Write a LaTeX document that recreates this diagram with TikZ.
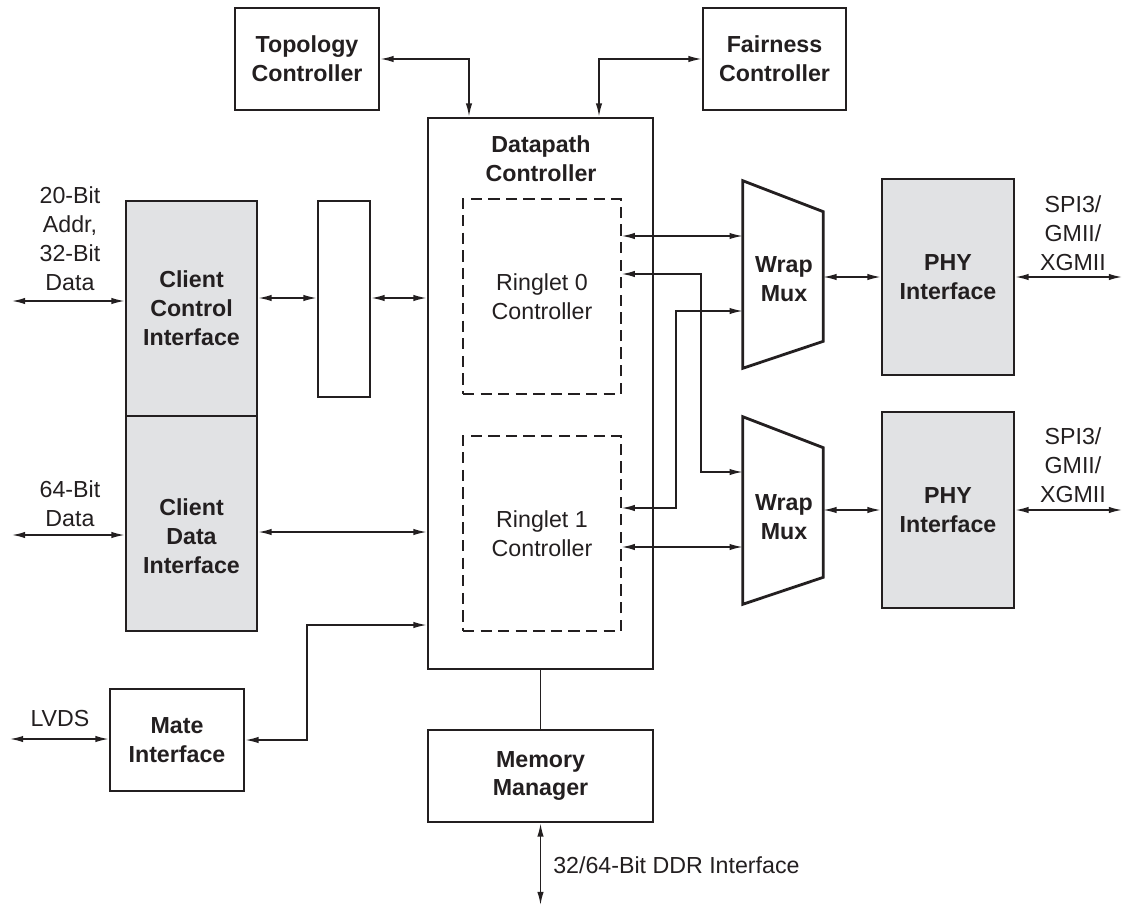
\documentclass[tikz,border=0pt]{standalone}
\usepackage{fontspec}
\setmainfont{Liberation Sans}
\usetikzlibrary{arrows.meta, calc}

\definecolor{ink}{HTML}{231F20}
\definecolor{panel}{HTML}{E1E2E4}

\begin{document}
\begin{tikzpicture}[
			x=0.025cm, y=-0.025cm,
			blk/.style={
				draw=ink,
				line width=2pt,
				align=center,
				inner sep=0pt,
				text=ink,
				font=\fontsize{16.5}{20.5}\selectfont\bfseries
			},
			shadeblk/.style={blk, fill=panel},
			ringlet/.style={
				draw=ink,
				line width=1pt,
				dash pattern=on 8pt off 4.5pt,
				align=center,
				inner sep=0pt,
				text=ink,
				font=\fontsize{16.5}{20.5}\selectfont
			},
			lbl/.style={align=center, inner sep=0pt, text=ink, font=\fontsize{16.5}{20.5}\selectfont},
			boldlbl/.style={lbl, font=\fontsize{16.5}{20.5}\selectfont\bfseries},
			biarr/.style={{Latex[length=3.3mm,width=1.6mm]}-{Latex[length=3.3mm,width=1.6mm]}, line width=1pt, draw=ink},
			plain/.style={line width=1pt, draw=ink}
			]
			
			\useasboundingbox (0,0) rectangle (1123,906);
			
			% top controllers
			\node[blk, minimum width=3.6cm, minimum height=2.55cm] (topo) at (307,59) {Topology\\Controller};
			\node[blk, minimum width=3.575cm, minimum height=2.55cm] (fair) at (774.5,59) {Fairness\\Controller};
			
			% datapath with the two ringlets
			\node[blk, minimum width=5.625cm, minimum height=13.775cm] (dp) at (540.5,393.5) {};
			\node[boldlbl] (dptitle) at (541,159) {Datapath\\Controller};
			\node[ringlet, minimum width=3.95cm, minimum height=4.875cm] (r0) at (542,296.5) {Ringlet 0\\Controller};
			\node[ringlet, minimum width=3.95cm, minimum height=4.875cm] (r1) at (542,533.5) {Ringlet 1\\Controller};
			
			% client side
			\node[shadeblk, minimum width=3.275cm, minimum height=5.375cm] (cci) at (191.5,308.5) {Client\\Control\\Interface};
			\node[shadeblk, minimum width=3.275cm, minimum height=5.375cm] (cdi) at (191.5,523.5) {};
			\node[boldlbl] (cditext) at (191.5,536) {Client\\Data\\Interface};
			\node[blk, minimum width=1.3cm, minimum height=4.9cm] (buf) at (344,299) {};
			\node[blk, minimum width=3.35cm, minimum height=2.55cm] (mate) at (177,740) {Mate\\Interface};
			\node[blk, minimum width=5.625cm, minimum height=2.3cm] (mem) at (540.5,776) {Memory\\Manager};
			
			% wrap muxes and PHYs
			\node[minimum width=2cm, minimum height=4.675cm, inner sep=0pt] (mux1) at (783,274.5) {};
			\node[minimum width=2cm, minimum height=4.675cm, inner sep=0pt] (mux2) at (783,510.5) {};
			\foreach \m in {mux1,mux2}
				\draw[ink, line width=2pt, line join=miter] (\m.north west) -- ($(\m.north east)+(0,31)$)
					-- ($(\m.south east)+(0,-27)$) -- (\m.south west) -- cycle;
			\node[boldlbl] (mux1text) at (784,279) {Wrap\\Mux};
			\node[boldlbl] (mux2text) at (784,517) {Wrap\\Mux};
			\node[shadeblk, minimum width=3.3cm, minimum height=4.9cm] (phy1) at (948,277) {PHY\\Interface};
			\node[shadeblk, minimum width=3.3cm, minimum height=4.9cm] (phy2) at (948,510) {PHY\\Interface};
			
			% free ends
			\coordinate (ccifree) at (12,301);
			\coordinate (cdifree) at (12,535);
			\coordinate (matefree) at (10,739);
			\coordinate (ddrfree) at (540.5,905);
			\coordinate (phy1free) at (1122,277);
			\coordinate (phy2free) at (1122,510);
			
			% outside labels
			\node[lbl] (ccilbl) at (70,238.5) {20-Bit\\Addr,\\32-Bit\\Data};
			\node[lbl] (cdilbl) at (70,503.5) {64-Bit\\Data};
			\node[lbl] (matelbl) at (60,719) {LVDS};
			\node[lbl, anchor=west] (ddrlbl) at (553,865) {32/64-Bit DDR Interface};
			\node[lbl] (phy1lbl) at (1073,233) {SPI3/\\GMII/\\XGMII};
			\node[lbl] (phy2lbl) at (1073,465) {SPI3/\\GMII/\\XGMII};
			
			% connectors
			\draw[biarr] (topo.east) -| (dp.north -| 469,0);
			\draw[biarr] (dp.north -| 599,0) |- (fair.west);
			\draw[biarr] (ccifree) -- (ccifree -| cci.west);
			\draw[biarr] (cdifree) -- (cdifree -| cdi.west);
			\draw[biarr] (matefree) -- (matefree -| mate.west);
			\draw[biarr] (cci.east |- 0,298) -- (buf.west |- 0,298);
			\draw[biarr] (buf.east |- 0,298) -- (dp.west |- 0,298);
			\draw[biarr] (cdi.east |- 0,532) -- (dp.west |- 0,532);
			\draw[biarr] (mate.east) -| (307,625) -- (dp.west |- 0,625);
			\draw[plain] (dp.south) -- (mem.north);
			\draw[biarr] (mem.south) -- (ddrfree);
			\draw[biarr] (r0.east |- 0,236) -- (mux1.west |- 0,236);
			\draw[biarr] (r0.east |- 0,274) -| (701,472) -- (mux2.west |- 0,472);
			\draw[biarr] (r1.east |- 0,508) -| (676,311) -- (mux1.west |- 0,311);
			\draw[biarr] (r1.east |- 0,547) -- (mux2.west |- 0,547);
			\draw[biarr] (mux1.east |- phy1.west) -- (phy1.west);
			\draw[biarr] (mux2.east |- phy2.west) -- (phy2.west);
			\draw[biarr] (phy1.east) -- (phy1free);
			\draw[biarr] (phy2.east) -- (phy2free);
			
		\end{tikzpicture}
\end{document}
